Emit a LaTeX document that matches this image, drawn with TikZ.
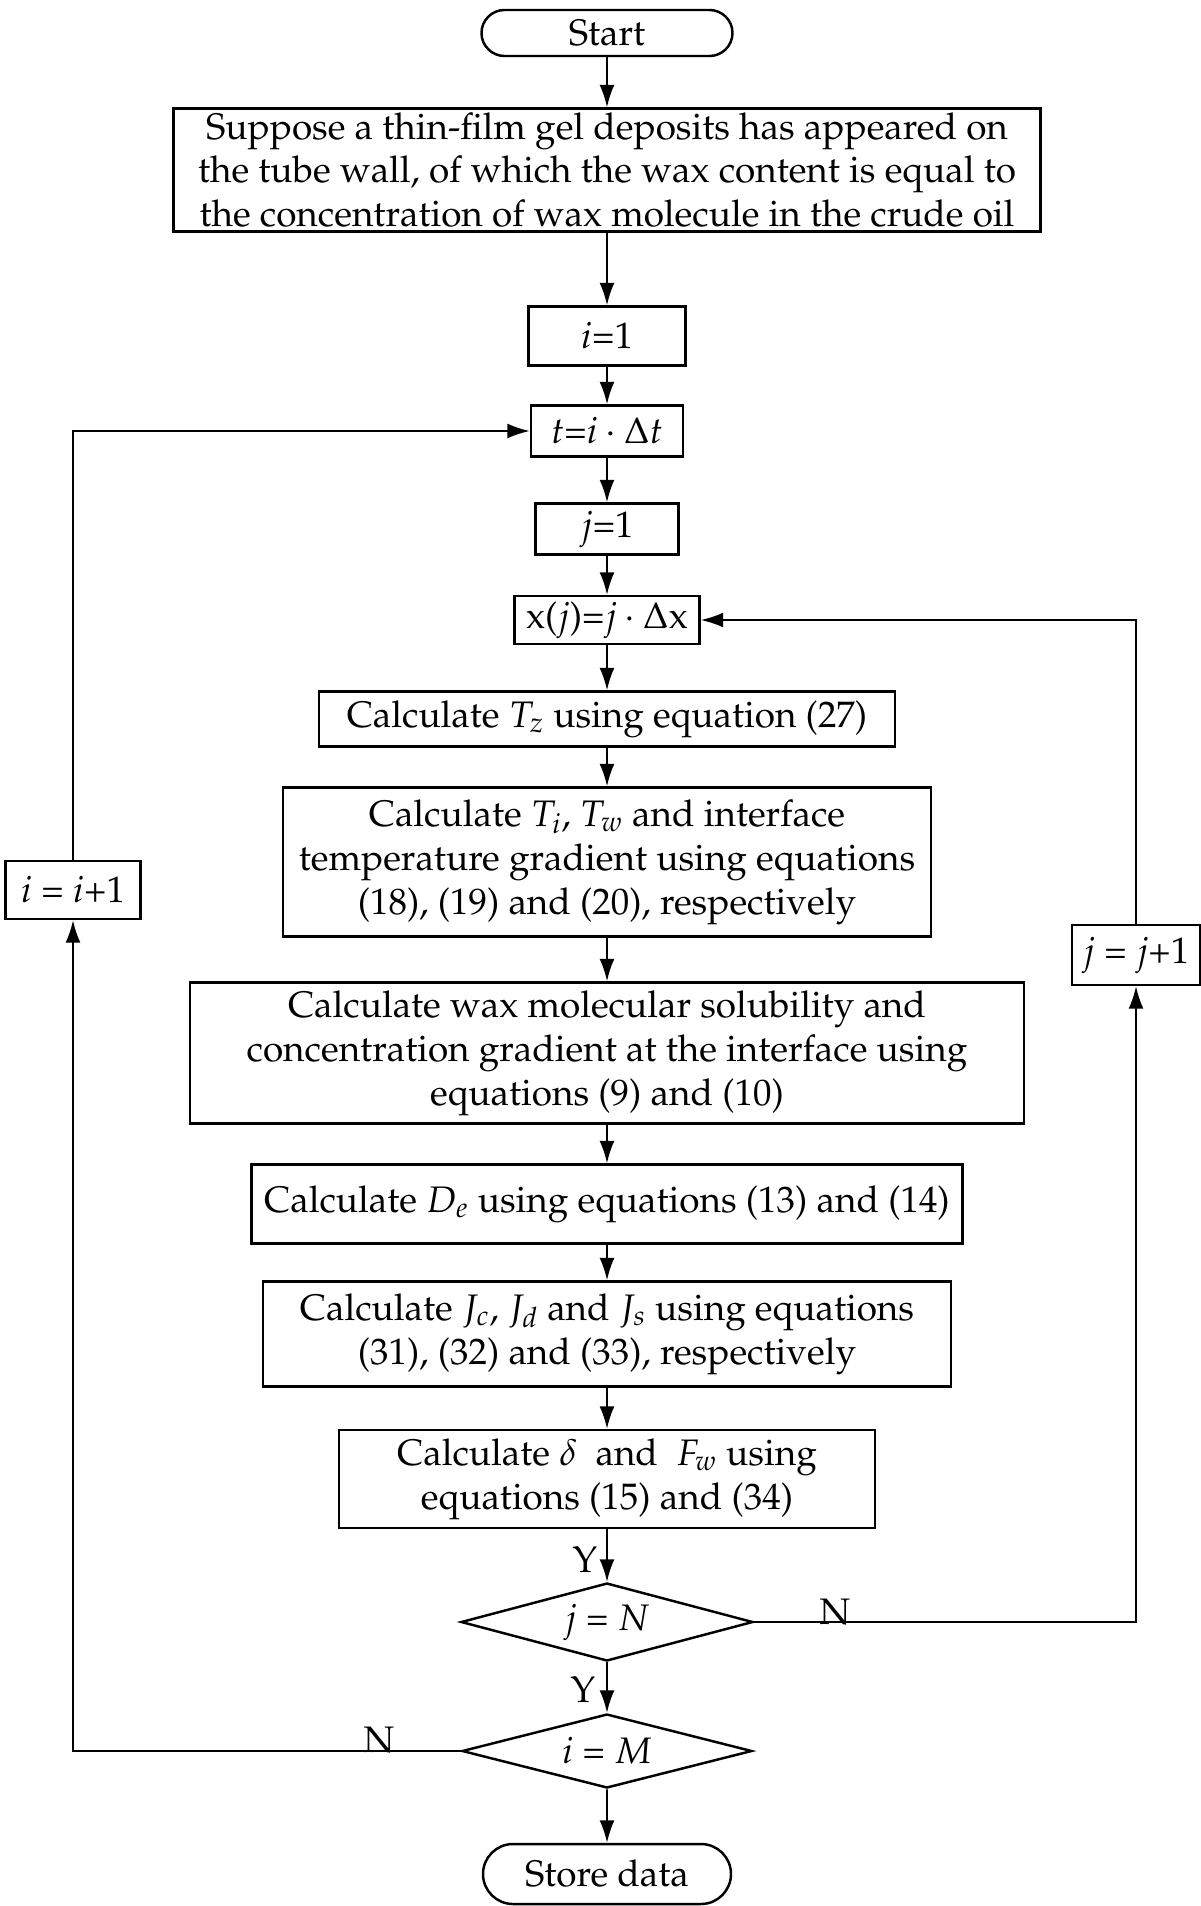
\documentclass[tikz,border=0pt]{standalone}
\usepackage[T1]{fontenc}
\usepackage{mathpazo}
\usepackage{tikz}
\usetikzlibrary{arrows.meta}
\usetikzlibrary{shapes.geometric}
\usetikzlibrary{shapes.misc}
\newcommand{\flowfont}{\fontsize{21}{25}\selectfont}
\tikzset{
    common/.style={draw, line width=1.4pt, align=center, inner sep=0pt, font=\flowfont},
    wh/.style 2 args={minimum width=#1*0.02cm, minimum height=#2*0.02cm},
    box/.style={common, rectangle},
    terminal/.style={common, rounded rectangle},
    decision/.style={common, diamond, aspect=3.75},
    flow/.style={line width=1.1pt, -{Latex[length=4.5mm, width=3mm]}},
    answer/.style={font=\flowfont, inner sep=0pt}
}

\begin{document}
\begin{tikzpicture}[x=0.02cm, y=-0.02cm]
    \useasboundingbox (0,0) rectangle (1200,1906);

    % main column
    \node[terminal, wh={251}{46}] (start) at (607,33) {Start};
    \node[box, wh={867}{123}] (suppose) at (607,170)
        {Suppose a thin-film gel deposits has appeared on\\
         the tube wall, of which the wax content is equal to\\
         the concentration of wax molecule in the crude oil};
    \node[box, wh={157}{59}] (i-one) at (607,336) {$i$=1};
    \node[box, wh={152}{51}] (time) at (607,431) {$t$=$i\cdot\Delta t$};
    \node[box, wh={143}{51}] (j-one) at (607,529) {$j$=1};
    \node[box, wh={185}{48}] (xpos) at (607,620) {x($j$)=$j\cdot\Delta$x};
    \node[box, wh={576}{55}] (calc-tz) at (607,719) {Calculate $T_z$ using equation (27)};
    \node[box, wh={648}{149}] (calc-ti) at (607,862)
        {Calculate $T_i$, $T_w$ and interface\\
         temperature gradient using equations\\
         (18), (19) and (20), respectively};
    \node[box, wh={834}{141}] (calc-wax) at (607,1053)
        {Calculate wax molecular solubility and\\
         concentration gradient at the interface using\\
         equations (9) and (10)};
    \node[box, wh={711}{79}] (calc-de) at (607,1204) {Calculate $D_e$ using equations (13) and (14)};
    \node[box, wh={688}{105}] (calc-j) at (607,1334)
        {Calculate $J_c$, $J_d$ and $J_s$ using equations\\
         (31), (32) and (33), respectively};
    \node[box, wh={536}{98}] (calc-delta) at (607,1479)
        {Calculate $\delta$\ \ and\ \ $F_w$ using\\
         equations (15) and (34)};
    \node[decision, wh={292}{78}] (j-check) at (607,1622) {$j$ = $N$};
    \node[decision, wh={290}{74}] (i-check) at (607,1751) {$i$ = $M$};
    \node[terminal, wh={248}{60}] (store) at (607,1874) {Store data};

    % loop counters
    \node[box, wh={135}{58}] (i-next) at (73,890) {$i$ = $i$+1};
    \node[box, wh={128}{60}] (j-next) at (1136,955) {$j$ = $j$+1};

    % answers
    \node[answer] (yes-j) at (585,1560) {Y};
    \node[answer] (no-j) at (835,1612) {N};
    \node[answer] (yes-i) at (583,1690) {Y};
    \node[answer] (no-i) at (379,1740) {N};

    \draw[flow] (start) -- (suppose);
    \draw[flow] (suppose) -- (i-one);
    \draw[flow] (i-one) -- (time);
    \draw[flow] (time) -- (j-one);
    \draw[flow] (j-one) -- (xpos);
    \draw[flow] (xpos) -- (calc-tz);
    \draw[flow] (calc-tz) -- (calc-ti);
    \draw[flow] (calc-ti) -- (calc-wax);
    \draw[flow] (calc-wax) -- (calc-de);
    \draw[flow] (calc-de) -- (calc-j);
    \draw[flow] (calc-j) -- (calc-delta);
    \draw[flow] (calc-delta) -- (j-check);
    \draw[flow] (j-check) -- (i-check);
    \draw[flow] (i-check) -- (store);

    \draw[flow] (j-check.east) -| (j-next.south);
    \draw[flow] (j-next.north) |- (xpos.east);
    \draw[flow] (i-check.west) -| (i-next.south);
    \draw[flow] (i-next.north) |- (time.west);
\end{tikzpicture}
\end{document}
